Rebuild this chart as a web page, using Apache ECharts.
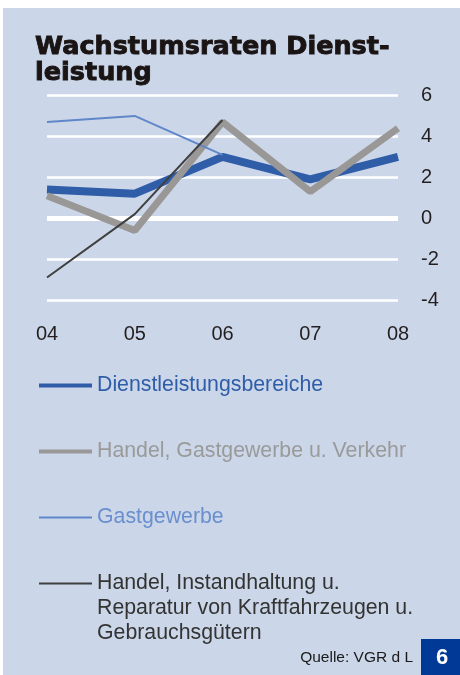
<!DOCTYPE html>
<html>
<head>
<meta charset="utf-8">
<script src="https://cdn.jsdelivr.net/npm/echarts@6/dist/echarts.min.js"></script>
<style>
  html, body { margin: 0; padding: 0; background: #fff; }
  #chart { width: 460px; height: 675px; }
</style>
</head>
<body>
<div id="chart"></div>
<script>
// Jahre und Wachstumsraten (in %)
var years = ['04', '05', '06', '07', '08'];
var dienstleistung = [1.4, 1.2, 3.0, 1.9, 3.0];
var handelGastVerkehr = [1.1, -0.6, 4.7, 1.3, 4.4];
var gastgewerbe = [4.7, 5.0, 3.1, null, null];
var handelInstand = [-2.9, 0.2, 4.8, null, null];
var yTicks = [-4, -2, 0, 2, 4, 6];

var names = [
	'Dienstleistungsbereiche',
	'Handel, Gastgewerbe u. Verkehr',
	'Gastgewerbe',
	'Handel, Instandhaltung u. Reparatur'
];
var colors = ['#2f5da8', '#999897', '#5f87c9', '#3f3f3f'];
var textColors = ['#2f5da8', '#9a9a9a', '#6a8fcf', '#333333'];

var font = 'Liberation Sans, Arial, sans-serif';

var myChart = echarts.init(document.getElementById('chart'), null, { renderer: 'canvas' });

//--- Legende, jeweils einzeln positioniert ---
function legendItem(i, top, h) {
	return {
		data: [names[i]],
		left: 39,
		top: top,
		orient: 'vertical',
		padding: 0,
		icon: 'rect',
		itemWidth: 53,
		itemHeight: h,
		selectedMode: false,
		formatter: i == 3 ? '\n\nHandel, Instandhaltung u.\nReparatur von Kraftfahrzeugen u.\nGebrauchsgütern' : '{name}',
		textStyle: {
			color: textColors[i],
			fontSize: 21.3,
			fontFamily: font,
			lineHeight: 25
		}
	};
}

var option = {
	animation: false,
	color: colors,
	graphic: [
		{
			type: 'rect',
			shape: { x: 3, y: 8, width: 457, height: 667 },
			style: { fill: '#cbd6e8' },
			z: -10
		},
		{
			type: 'rect',
			shape: { x: 421, y: 639, width: 39, height: 36 },
			style: { fill: '#003a96' }
		},
		{
			type: 'text',
			x: 442,
			y: 658,
			style: {
				text: '6', fill: '#fff', font: 'bold 22px ' + font,
				align: 'center', verticalAlign: 'middle'
			}
		},
		{
			type: 'text',
			x: 413,
			y: 658,
			style: {
				text: 'Quelle: VGR d L', fill: '#1a1a1a', font: '15.5px ' + font,
				align: 'right', verticalAlign: 'middle'
			}
		}
	],
	title: {
		text: 'Wachstumsraten Dienst-\nleistung',
		left: 35,
		top: 34,
		padding: 0,
		textStyle: {
			color: '#1a1414',
			fontFamily: 'DejaVu Sans',
			fontWeight: 'bold',
			fontSize: 25.5,
			lineHeight: 26,
			textBorderColor: '#1a1414',
			textBorderWidth: 0.9
		}
	},
	legend: [
		legendItem(0, 373, 4),
		legendItem(1, 439, 4),
		legendItem(2, 505, 2),
		legendItem(3, 521, 2)
	],
	grid: {
		left: 47,
		right: 62,
		top: 95.5,
		bottom: 375
	},
	xAxis: {
		type: 'category',
		data: years,
		boundaryGap: false,
		axisLine: { show: false },
		axisTick: { show: false },
		axisLabel: {
			margin: 24,
			fontSize: 20,
			color: '#231f20',
			fontFamily: font
		},
		splitLine: { show: false }
	},
	yAxis: {
		type: 'value',
		position: 'right',
		min: yTicks[0],
		max: yTicks[yTicks.length - 1],
		interval: 2,
		axisLine: { show: false },
		axisTick: { show: false },
		axisLabel: {
			margin: 23,
			fontSize: 20,
			color: '#231f20',
			fontFamily: font
		},
		splitLine: { lineStyle: { color: '#ffffff', width: 2.5 } }
	},
	series: [
		{
			name: names[0],
			type: 'line',
			data: dienstleistung,
			symbol: 'none',
			lineStyle: { width: 8, color: colors[0] },
			markLine: {
				silent: true,
				symbol: 'none',
				label: { show: false },
				lineStyle: { color: '#ffffff', width: 5, type: 'solid' },
				data: [{ yAxis: 0 }],
				z: 1
			}
		},
		{
			name: names[1],
			type: 'line',
			data: handelGastVerkehr,
			symbol: 'none',
			lineStyle: { width: 7, color: colors[1] }
		},
		{
			name: names[2],
			type: 'line',
			data: gastgewerbe,
			symbol: 'none',
			lineStyle: { width: 2, color: colors[2] }
		},
		{
			name: names[3],
			type: 'line',
			data: handelInstand,
			symbol: 'none',
			lineStyle: { width: 2, color: colors[3] }
		}
	]
};
myChart.setOption(option);
</script>
</body>
</html>
